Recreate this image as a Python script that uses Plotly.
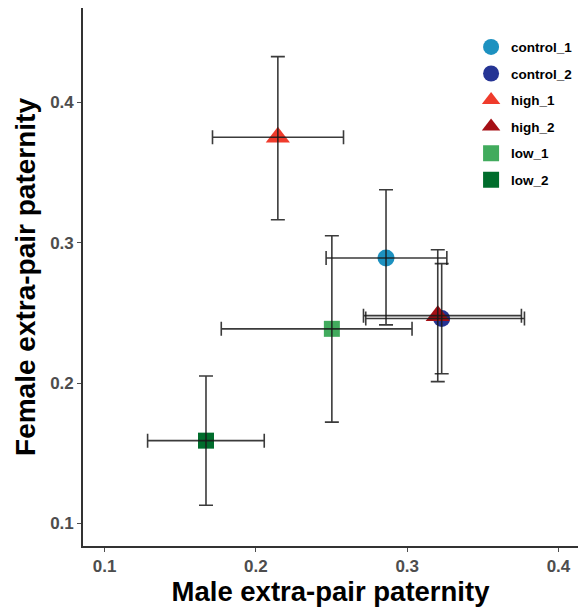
import plotly.graph_objects as go

groups = ["control_1", "control_2", "high_1", "high_2", "low_1", "low_2"]
male = [0.286, 0.3228, 0.2145, 0.3202, 0.2502, 0.167]
female = [0.289, 0.246, 0.375, 0.248, 0.2386, 0.159]
male_lo = [0.2464, 0.2726, 0.1713, 0.2711, 0.1771, 0.1284]
male_hi = [0.3262, 0.3775, 0.2579, 0.3755, 0.3032, 0.2055]
female_lo = [0.2414, 0.2066, 0.3163, 0.201, 0.1722, 0.113]
female_hi = [0.3376, 0.285, 0.4324, 0.2949, 0.3049, 0.205]
colors = ["#1d91c0", "#253494", "#ef3b2c", "#a50f15", "#41ab5d", "#006d2c"]
symbols = ["circle", "circle", "triangle-up", "triangle-up", "square", "square"]
sizes = [17, 17, 21, 21, 16, 16]

fig = go.Figure()
for i, g in enumerate(groups):
    fig.add_trace(go.Scatter(
        x=[male[i]], y=[female[i]], mode="markers", name=g, legendgroup=g,
        marker=dict(color=colors[i], symbol=symbols[i], size=sizes[i], line=dict(width=0)),
    ))
for i, g in enumerate(groups):
    fig.add_trace(go.Scatter(
        x=[male[i]], y=[female[i]], mode="markers", showlegend=False, hoverinfo="skip",
        marker=dict(opacity=0, size=1),
        error_x=dict(type="data", symmetric=False, array=[male_hi[i] - male[i]],
                     arrayminus=[male[i] - male_lo[i]], color="rgba(25,25,25,0.85)",
                     thickness=1.6, width=7),
        error_y=dict(type="data", symmetric=False, array=[female_hi[i] - female[i]],
                     arrayminus=[female[i] - female_lo[i]], color="rgba(25,25,25,0.85)",
                     thickness=1.6, width=7),
    ))

axis_common = dict(
    showgrid=False, zeroline=False, showline=True, linecolor="#333333", linewidth=1.6,
    ticks="outside", ticklen=4, tickwidth=1, tickcolor="#4d4d4d",
    tickfont=dict(family="Liberation Sans", size=17, color="#4d4d4d", weight="bold"),
)
fig.update_xaxes(range=[0.0857, 0.4129], tickvals=[0.1, 0.2, 0.3, 0.4],
                 ticktext=["0.1", "0.2", "0.3", "0.4"],
                 title=dict(text="Male extra-pair paternity", standoff=5,
                            font=dict(family="Liberation Sans", size=27.5, color="black", weight="bold")),
                 **axis_common)
fig.update_yaxes(range=[0.084, 0.467], tickvals=[0.1, 0.2, 0.3, 0.4],
                 ticktext=["0.1", "0.2", "0.3", "0.4"],
                 title=dict(text="Female extra-pair paternity", standoff=6,
                            font=dict(family="Liberation Sans", size=28, color="black", weight="bold")),
                 **axis_common)
fig.update_layout(
    width=578, height=608, margin=dict(l=83, r=0, t=8, b=62, autoexpand=False),
    plot_bgcolor="white", paper_bgcolor="white",
    legend=dict(x=0.784, y=0.956, xanchor="left", yanchor="top", bgcolor="rgba(0,0,0,0)",
                font=dict(family="Liberation Sans", size=13.5, color="black", weight="bold"),
                tracegroupgap=6, itemwidth=30),
    showlegend=True,
)
fig.write_html("out.html")
